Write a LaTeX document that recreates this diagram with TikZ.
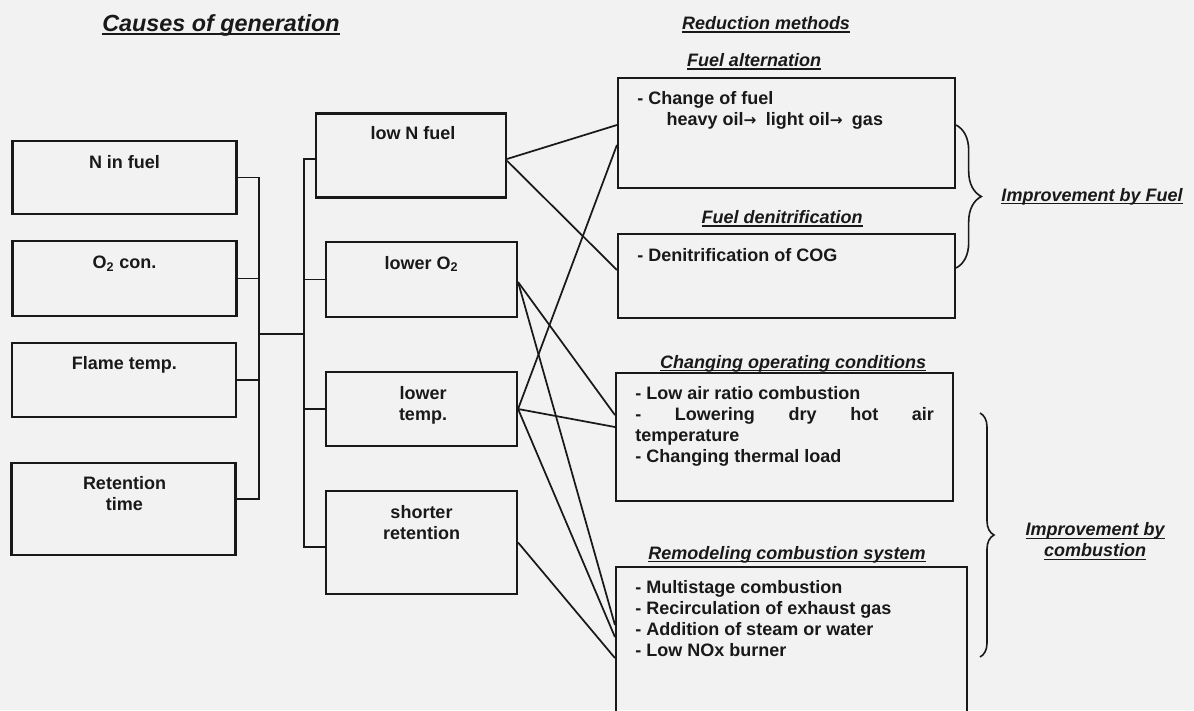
\documentclass[tikz,border=0pt]{standalone}
\usepackage{fontspec}
\setmainfont{Liberation Sans}
\newfontfamily\arrowfont{DejaVu Sans}
\usetikzlibrary{decorations.pathreplacing}

\colorlet{ink}{black!90}
\colorlet{paper}{black!5}

% underlined heading text
\newcommand{\ttl}[1]{\sbox0{#1}\rlap{\rule[-2.4pt]{\wd0}{1.1pt}}\usebox0}
% small arrow between the fuels
\newcommand{\fuelto}{{\arrowfont\fontsize{11.5}{12}\selectfont →}}

\tikzset{
 box/.style 2 args={draw=ink, line width=1.6pt, minimum width=#1, minimum height=#2, inner sep=0pt},
 txt/.style={font=\fontsize{13.5}{15.75}\selectfont\bfseries, text=ink, inner sep=0pt, align=center},
 list/.style={txt, align=left, anchor=north west},
 head/.style={txt, font=\fontsize{13.5}{15.75}\selectfont\bfseries\itshape},
 wire/.style={draw=ink, line width=1.3pt},
 curly/.style={draw=ink, line width=1.2pt, decorate, decoration={brace, amplitude=#1}}
}

\begin{document}
\begin{tikzpicture}[x=0.75pt, y=-0.75pt]
 % page, paper tone
 \useasboundingbox (0,0) rectangle (1194,710);
 \fill[paper] (0,0) rectangle (1194,710);
 \clip (0,0) rectangle (1194,710);

 % headings
 \node[head, font=\fontsize{17.5}{21}\selectfont\bfseries\itshape] (causes) at (221,25.5) {\ttl{Causes of generation}};
 \node[head] (reduction) at (766,24.5) {\ttl{Reduction methods}};

 % causes of generation
 \node[box={168pt}{54.75pt}] (nfuel) at (124.5,177.5) {};
 \node[box={168pt}{56.25pt}] (o2con) at (124.5,278.5) {};
 \node[box={168pt}{55.5pt}] (flame) at (124,380) {};
 \node[box={168pt}{69pt}] (rett) at (123.5,509) {};
 \node[txt] (nfuelt) at (124.5,162) {N in fuel};
 \node[txt] (o2cont) at (124.5,263.5) {O\textsubscript{2} con.};
 \node[txt] (flamet) at (124.5,365) {Flame temp.};
 \node[txt] (rettt) at (124.5,493.5) {Retention\\time};

 % countermeasures
 \node[box={142.5pt}{63pt}] (lown) at (411,155.5) {};
 \node[box={143.25pt}{56.25pt}] (lowo2) at (421.5,279.5) {};
 \node[box={143.25pt}{55.5pt}] (lowtemp) at (421.5,409) {};
 \node[box={143.25pt}{77.25pt}] (shortret) at (421.5,542.5) {};
 \node[txt] (lownt) at (413,133) {low N fuel};
 \node[txt] (lowo2t) at (421.5,264) {lower O\textsubscript{2}};
 \node[txt] (lowtempt) at (423,405.5) {lower\\temp.};
 \node[txt] (shortrett) at (421.5,522.5) {shorter\\retention};

 % reduction methods
 \node[box={252.75pt}{82.5pt}] (fuelalt) at (786.5,133) {};
 \node[box={252.75pt}{63pt}] (fueldenit) at (786.5,276) {};
 \node[box={252.75pt}{96pt}] (chgop) at (784.5,437) {};
 \node[box={263.25pt}{112.5pt}] (remodel) at (791.5,642) {};
 \node[head] (fuelaltttl) at (754,61.5) {\ttl{Fuel alternation}};
 \node[head] (fueldenitttl) at (782,218.5) {\ttl{Fuel denitrification}};
 \node[head] (chgopttl) at (793,363.5) {\ttl{Changing operating conditions}};
 \node[head] (remodelttl) at (787,554.5) {\ttl{Remodeling combustion system}};
 \node[list] (fuelaltt) at (637,91.5) {- Change of fuel\\\hspace*{22pt}heavy oil\fuelto\hspace{7pt}light oil\fuelto\hspace{7pt}gas};
 \node[list] (fueldenitt) at (637,248.5) {- Denitrification of COG};
 \node[list] (chgopt) at (635,386.5) {- Low air ratio combustion\\\makebox[224pt][s]{- Lowering dry hot air}\\temperature\\- Changing thermal load};
 \node[list] (remodelt) at (635,580.5) {- Multistage combustion\\- Recirculation of exhaust gas\\- Addition of steam or water\\- Low NOx burner};

 % grouping braces
 \draw[curly=19pt] (956,125) -- (956,268);
 \draw[curly=10.5pt] (980,413) -- (980,657);
 \node[head] (impfuel) at (1092,196.5) {\ttl{Improvement by Fuel}};
 \node[head] (impcomb) at (1095,541.5) {\ttl{Improvement by}\\\ttl{combustion}};

 % tree from causes to countermeasures
 \coordinate (j1) at (259,334);
 \coordinate (j2) at (304,334);
 \foreach \src in {nfuel,o2con,flame}
  \draw[wire] (\src.east) -| (j1);
 \draw[wire] ([yshift=7.5pt]rett.east) -| (j1);
 \draw[wire] (j1) -- (j2);
 \draw[wire] (j2) |- ([yshift=-2.6pt]lown.west);
 \foreach \dst in {lowo2,lowtemp}
  \draw[wire] (j2) |- (\dst.west);
 \draw[wire] (j2) |- ([yshift=-3.4pt]shortret.west);

 % countermeasures to reduction methods
 \draw[wire] ([yshift=-2.6pt]lown.east) -- ([yshift=6pt]fuelalt.west);
 \draw[wire] ([yshift=-4pt]lown.east) -- ([yshift=4.5pt]fueldenit.west);
 \draw[wire] ([yshift=-1.9pt]lowo2.east) -- ([yshift=16.5pt]chgop.west);
 \draw[wire] ([yshift=-1.9pt]lowo2.east) -- ([yshift=12.75pt]remodel.west);
 \draw[wire] (lowtemp.east) -- ([yshift=-9pt]fuelalt.west);
 \draw[wire] (lowtemp.east) -- ([yshift=7.5pt]chgop.west);
 \draw[wire] (lowtemp.east) -- ([yshift=3.75pt]remodel.west);
 \draw[wire] (shortret.east) -- ([yshift=-12pt]remodel.west);
\end{tikzpicture}
\end{document}
